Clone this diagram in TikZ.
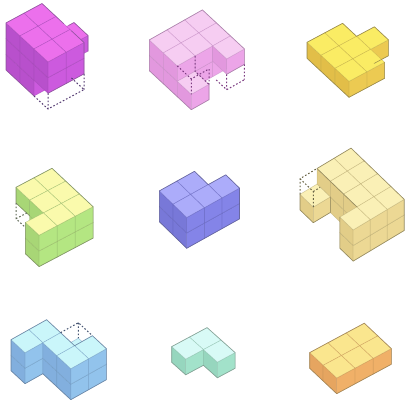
\documentclass[tikz,border=0pt]{standalone}
\tikzset{
  facegrid/.style={line width=0.5pt,line join=round,draw=cg,draw opacity=0.55},
  outl/.style={draw=co,line width=0.6pt,line join=round,line cap=round,draw opacity=0.8},
  hid/.style={draw=cd,line width=1pt,dash pattern=on 1.6pt off 2pt}
}
\newcommand{\voxels}[1]{%
  \foreach \i/\j/\k in {#1}{%
    \path[facegrid,fill=cl] (\i,\j,\k) -- (\i+1,\j,\k) -- (\i+1,\j,\k+1) -- (\i,\j,\k+1) -- cycle;
    \path[facegrid,fill=cr] (\i+1,\j,\k) -- (\i+1,\j+1,\k) -- (\i+1,\j+1,\k+1) -- (\i+1,\j,\k+1) -- cycle;
    \path[facegrid,fill=ct] (\i,\j,\k+1) -- (\i+1,\j,\k+1) -- (\i+1,\j+1,\k+1) -- (\i,\j+1,\k+1) -- cycle;
  }}
\newcommand{\palette}[6]{%
  \definecolor{ct}{RGB}{#1}\definecolor{cl}{RGB}{#2}\definecolor{cr}{RGB}{#3}%
  \definecolor{cg}{RGB}{#4}\definecolor{co}{RGB}{#5}\definecolor{cd}{RGB}{#6}}
\begin{document}
\begin{tikzpicture}
\useasboundingbox (0,0) rectangle (409pt,-400pt);
\fill[white] (0,0) rectangle (409pt,-400pt);
% magenta
\begin{scope}[shift={(6pt,-70pt)},x={(14pt,-13pt)},y={(18pt,9.7pt)},z={(0pt,15.7pt)}]
\palette{236,112,236}{184,80,204}{204,90,222}{160,75,180}{135,85,150}{85,60,115}
\voxels{0/1/0,0/1/1,0/1/2,0/0/0,0/0/1,0/0/2,1/2/1,1/1/0,1/1/1,1/1/2,1/0/0,1/0/1,1/0/2,2/1/1,2/1/2,2/0/1,2/0/2}
\draw[outl] (2,0,0)--(0,0,0)--(0,0,3)--(0,2,3)--(1.55,2,3);
\draw[outl] (2.1,2,3)--(3,2,3)--(3,2,1)--(3,0,1);
\draw[outl] (1,2.7,2)--(1,3,2)--(2,3,2)--(2,3,1);
\draw[hid] (2,0,0)--(3,0,0)--(3,2,0)--(2,2,0) (3,0,1)--(3,0,0) (3,2,1)--(3,2,0);
\end{scope}
% pale pink
\begin{scope}[shift={(149.3pt,-70.7pt)},x={(14pt,-13pt)},y={(17.7pt,10pt)},z={(0pt,15.4pt)}]
\palette{246,205,242}{226,152,222}{236,165,232}{195,140,195}{160,120,160}{125,60,130}
\voxels{0/2/0,0/2/1,0/1/0,0/1/1,0/0/0,0/0/1,1/2/0,1/2/1,1/1/0,1/1/1,1/0/0,1/0/1,2/2/1,2/0/0}
\draw[outl] (3,0,0)--(0,0,0)--(0,0,2)--(0,3,2)--(3,3,2)--(3,3,1)--(3,2,1);
\draw[outl] (3,0,0)--(3,1,0)--(3,1,1);
\draw[hid] (2,0,2)--(3,0,2)--(3,1,2)--(3,1,1) (3,0,2)--(3,0,1) (2,1,2)--(2,1,1)--(3,1,1);
\draw[hid] (2.25,2,0)--(3,2,0)--(3,3,0) (3,2,1)--(3,2,0) (3,3,1)--(3,3,0);
\end{scope}
% yellow
\begin{scope}[shift={(307pt,-58.3pt)},x={(14pt,-13pt)},y={(17.8pt,9.5pt)},z={(0pt,16pt)}]
\palette{250,236,100}{226,190,72}{236,202,82}{190,170,75}{140,125,70}{100,90,50}
\voxels{0/1/0,0/0/0,1/2/0,1/1/0,1/0/0,2/1/0,2/0/0}
\draw[outl] (3,0,0)--(0,0,0)--(0,0,1)--(0,2,1)--(1,2,1)--(1,3,1)--(2,3,1)--(2,3,0)--(2,2.2,0);
\draw[outl] (3,2,1)--(3,2,0)--(3,0,0);
\end{scope}
% green
\begin{scope}[shift={(16pt,-218.7pt)},x={(13.7pt,-12.8pt)},y={(18pt,9.5pt)},z={(0pt,15.7pt)}]
\palette{250,250,172}{168,214,118}{180,230,130}{145,180,105}{120,135,95}{95,105,85}
\voxels{0/1/0,0/1/1,0/0/1,1/1/0,1/1/1,1/0/0,1/0/1,2/1/0,2/1/1,2/0/0,2/0/1,2/-1/0,2/-1/1}
\draw[outl] (1,0,1)--(0,0,1)--(0,0,2)--(0,2,2)--(3,2,2)--(3,2,0)--(3,-1,0)--(2,-1,0)--(2,-1,2);
\draw[hid] (0,0,1)--(0,0,0)--(0.65,0,0) (0,0,0)--(0,0.6,0);
\end{scope}
% blue
\begin{scope}[shift={(159.3pt,-221.7pt)},x={(13.7pt,-13.3pt)},y={(17.6pt,9.8pt)},z={(0pt,15.4pt)}]
\palette{172,172,250}{120,120,216}{132,132,232}{100,100,185}{95,95,145}{70,70,110}
\voxels{0/1/0,0/1/1,0/0/0,0/0/1,1/2/0,1/2/1,1/1/0,1/1/1,1/0/0,1/0/1}
\draw[outl] (2,0,0)--(0,0,0)--(0,0,2)--(0,2,2)--(1,2,2)--(1,3,2)--(2,3,2)--(2,3,0)--(2,0,0);
\end{scope}
% cream
\begin{scope}[shift={(317pt,-199.7pt)},x={(13.3pt,-12.8pt)},y={(17pt,10.2pt)},z={(0pt,15.6pt)}]
\palette{250,240,182}{226,205,136}{236,216,148}{185,170,115}{135,125,85}{105,100,70}
\voxels{0/1/0,0/1/1,0/0/0,0/0/1,0/-1/0,1/1/0,1/1/1,1/0/0,1/0/1,2/1/0,2/1/1,2/0/0,2/0/1,3/1/0,3/1/1,3/0/0,3/0/1,3/-1/0,3/-1/1}
\draw[outl] (0,0,2)--(0,2,2)--(4,2,2)--(4,2,0)--(4,-1,0)--(3,-1,0)--(3,-1,2);
\draw[outl] (0,0,2)--(3,0,2);
\draw[outl] (1,-1,0)--(0,-1,0)--(0,-1,1);
\draw[outl] (1,0,1)--(1,0,0)--(1,-1,0);
\draw[hid] (0,-1,1)--(0,-1,2)--(0,0,2) (0,-1,2)--(1,-1,2)--(1,-1,1) (1,-1,2)--(1,-0.6,2);
\end{scope}
% sky blue
\begin{scope}[shift={(11pt,-370.7pt)},x={(14pt,-13pt)},y={(17.8pt,10pt)},z={(0pt,15.5pt)}]
\palette{202,246,250}{130,175,222}{146,195,236}{110,150,190}{100,125,155}{70,85,115}
\voxels{0/1/0,0/1/1,0/0/0,0/0/1,1/2/0,1/1/0,1/1/1,2/2/0,2/2/1,2/1/0,2/1/1}
\draw[outl] (1,0,0)--(0,0,0)--(0,0,2)--(0,2,2)--(2,2,2)--(2,3,2)--(3,3,2)--(3,3,0)--(3,1,0)--(1,1,0)--(1,0,0);
\draw[hid] (1,2,2)--(1,3,2)--(2,3,2) (1,3,2)--(1,3,1);
\end{scope}
% mint
\begin{scope}[shift={(171.7pt,-362.3pt)},x={(14pt,-12.5pt)},y={(17.7pt,9.5pt)},z={(0pt,15.7pt)}]
\palette{216,250,246}{150,214,190}{162,226,202}{135,185,165}{125,150,140}{90,110,100}
\voxels{0/1/0,0/0/0,1/1/0}
\draw[outl] (1,0,0)--(0,0,0)--(0,0,1)--(0,2,1)--(2,2,1)--(2,2,0)--(2,1,0)--(1,1,0)--(1,0,0);
\end{scope}
% orange
\begin{scope}[shift={(309.7pt,-368.3pt)},x={(13.5pt,-12.7pt)},y={(18.2pt,9.8pt)},z={(0pt,15.7pt)}]
\palette{250,230,142}{230,165,96}{240,176,104}{195,145,85}{150,125,80}{110,90,60}
\voxels{0/2/0,0/1/0,0/0/0,1/2/0,1/1/0,1/0/0}
\draw[outl] (2,3,1)--(2,3,0)--(2,0,0)--(0,0,0)--(0,0,1)--(0,3,1)--(2,3,1);
\end{scope}
\end{tikzpicture}
\end{document}
